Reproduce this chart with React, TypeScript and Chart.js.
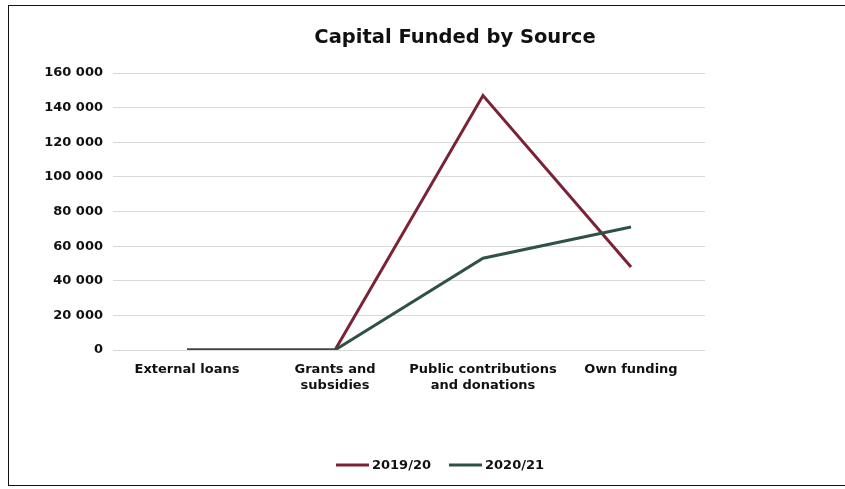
import React, { useEffect, useRef } from "react";
import { Chart, registerables } from "chart.js";

Chart.register(...registerables);

const categories: (string | string[])[] = [
  "External loans",
  ["Grants and", "subsidies"],
  ["Public contributions", "and donations"],
  "Own funding",
];
const series2019: number[] = [0, 0, 147000, 48000];
const series2020: number[] = [0, 0, 53000, 71000];
const seriesNames: string[] = ["2019/20", "2020/21"];
const seriesColors: string[] = ["#7A2236", "#2F5343"];
const chartTitle = "Capital Funded by Source";

const FONT = "'DejaVu Sans', Verdana, sans-serif";

const legendPlugin = {
  id: "customLegend",
  afterDraw(chart: any) {
    const ctx = chart.ctx;
    ctx.save();
    // title
    ctx.font = `bold 19.5px ${FONT}`;
    ctx.fillStyle = "#111";
    ctx.textAlign = "center";
    ctx.textBaseline = "middle";
    ctx.fillText(chartTitle, 446, 32);
    // legend
    ctx.font = `bold 13px ${FONT}`;
    const lineW = 33;
    const gap = 3;
    const itemGap = 18;
    const items = chart.data.datasets.map((d: any) => ({
      label: d.label,
      color: d.borderColor,
      w: lineW + gap + ctx.measureText(d.label).width,
    }));
    const total = items.reduce((s: number, it: any) => s + it.w, 0) + itemGap * (items.length - 1);
    let x = 431 - total / 2;
    const y = 459;
    items.forEach((it: any) => {
      ctx.strokeStyle = it.color;
      ctx.lineWidth = 3;
      ctx.beginPath();
      ctx.moveTo(x, y);
      ctx.lineTo(x + lineW, y);
      ctx.stroke();
      ctx.fillStyle = "#111";
      ctx.textAlign = "left";
      ctx.fillText(it.label, x + lineW + gap, y + 1);
      x += it.w + itemGap;
    });
    ctx.restore();
  },
};

export default function App() {
  const ref = useRef<HTMLCanvasElement>(null);
  useEffect(() => {
    if (!ref.current) return;
    const chart = new Chart(ref.current, {
      type: "line",
      data: {
        labels: categories,
        datasets: [
          {
            label: seriesNames[0],
            data: series2019,
            borderColor: seriesColors[0],
            backgroundColor: seriesColors[0],
            borderWidth: 3,
            pointRadius: 0,
            tension: 0,
            order: 2,
          },
          {
            label: seriesNames[1],
            data: series2020,
            borderColor: seriesColors[1],
            backgroundColor: seriesColors[1],
            borderWidth: 3,
            pointRadius: 0,
            tension: 0,
            order: 1,
          },
        ],
      },
      options: {
        animation: false,
        responsive: false,
        maintainAspectRatio: false,
        layout: { padding: { left: 24, right: 139, top: 67, bottom: 0 } },
        plugins: {
          legend: { display: false },
          tooltip: { enabled: false },
          title: { display: false },
        },
        scales: {
          x: {
            offset: true,
            grid: { display: false },
            border: { display: false },
            ticks: {
              color: "#111",
              font: { family: FONT, size: 13, weight: "bold" },
              maxRotation: 0,
              autoSkip: false,
              padding: 4,
            },
            afterFit(scale: any) {
              scale.height = 134;
            },
          },
          y: {
            min: 0,
            max: 160000,
            grid: { color: "#d9d9d9", drawTicks: false, lineWidth: 1 },
            border: { display: false },
            ticks: {
              stepSize: 20000,
              color: "#111",
              padding: 10,
              font: { family: FONT, size: 13, weight: "bold" },
              callback: (v: any) => String(v).replace(/\B(?=(\d{3})+(?!\d))/g, " "),
            },
            afterFit(scale: any) {
              scale.width = 80;
            },
          },
        },
      },
      plugins: [legendPlugin],
    });
    return () => chart.destroy();
  }, []);
  return (
    <div
      style={{
        position: "absolute",
        left: 8,
        top: 5,
        width: 842,
        height: 481,
        border: "1.5px solid #111",
        background: "#fff",
        boxSizing: "border-box",
      }}
    >
      <canvas ref={ref} width={835} height={478} style={{ position: "absolute", left: 0, top: 0 }} />
    </div>
  );
}
